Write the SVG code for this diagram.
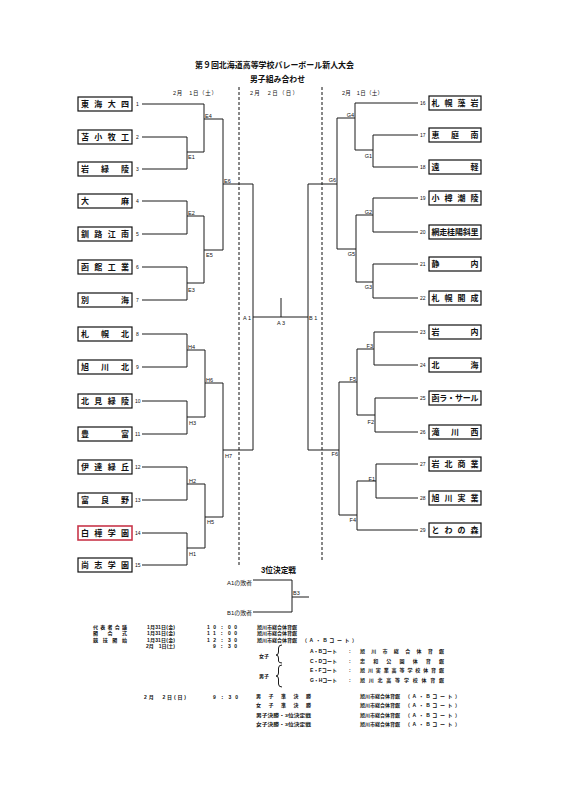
<svg xmlns="http://www.w3.org/2000/svg" width="562" height="800" viewBox="0 0 562 800">
<style>
text{font-family:"Liberation Sans","Noto Sans CJK JP",sans-serif;fill:#111}
.ln{stroke:#1a1a1a;stroke-width:1;fill:none}
.dash{stroke:#111;stroke-width:1;stroke-dasharray:3 2;fill:none}
.box{fill:#fff;stroke:#111;stroke-width:1.2}
.red{fill:#fff;stroke:#c8364a;stroke-width:1.6}
.tn{font-size:8px;font-weight:bold}
.num{font-size:5px}
.lbl{font-size:5.5px}
.ttl{font-size:8.5px;font-weight:bold}
.dt{font-size:5.5px}
.sc{font-size:5px;font-weight:bold}
.sm{font-size:4.3px;font-weight:bold}
</style>
<rect width="562" height="800" fill="#fff"/>
<g id="title">
<text class="ttl" x="195" y="68" textLength="159" lengthAdjust="spacingAndGlyphs">第９回北海道高等学校バレーボール新人大会</text>
<text class="ttl" x="250" y="81.5" textLength="55" lengthAdjust="spacingAndGlyphs">男子組み合わせ</text>
<text class="dt" x="173" y="95" textLength="44" lengthAdjust="spacing">2月　1日（土）</text>
<text class="dt" x="250" y="95" textLength="48" lengthAdjust="spacing">2月　2日（日）</text>
<text class="dt" x="342" y="95" textLength="41" lengthAdjust="spacing">2月　1日（土）</text>
</g>
<g id="day-dividers">
<path class="dash" d="M239 87V566M322 87V562"/>
</g>
<g id="connectors">
<path class="ln" d="M142 104H204M142 137H187M142 169H187M142 201H187M142 234H187M142 267H187M142 300H187M142 334H187M142 367H187M142 401H187M142 434H187M142 467H187M142 500H187M142 533H187M142 565H187
M187 137V169M187 201V234M187 267V300M187 334V367M187 401V434M187 467V500M187 533V565
M187 152H204M187 216H204M187 283H204M187 350H205M187 417H205M187 484H205M187 548H205
M204 104V152M204 216V283M205 350V417M205 484V548
M204 119H223M204 250H223M205 383H223M205 517H223
M223 119V250M223 383V517M223 184H253M223 450H253
M253 184V450M253 317H308M281 298V317M308 184V450"/>
<path class="ln" d="M355 103H418M373 135H418M373 167H418M373 198H418M373 232H418M373 264H418M373 298H418M374 332H418M374 365H418M375 398H418M375 432H418M376 464H418M376 498H418M357 530H418
M373 135V167M373 198V232M373 264V298M374 332V365M375 398V432M376 464V498
M355 150H373M356 215H373M356 282H373M357 349H374M357 415H375M357 481H376
M355 103V150M356 215V282M357 349V415M357 481V530
M337 118H355M337 249H356M339 382H357M339 515H357
M337 118V249M339 382V515M308 184H337M308 450H339"/>
<path class="ln" d="M253 580H292V612H253M292 597H309"/>
</g>
<g id="match-labels" class="lbl">
<text x="205" y="118">E4</text>
<text x="188" y="159">E1</text>
<text x="224" y="182.5">E6</text>
<text x="188" y="214.5">E2</text>
<text x="206" y="257">E5</text>
<text x="188" y="292">E3</text>
<text x="188" y="348.5">H4</text>
<text x="206" y="381.5">H6</text>
<text x="189" y="425">H3</text>
<text x="225" y="458">H7</text>
<text x="189" y="483">H2</text>
<text x="207" y="524">H5</text>
<text x="189" y="556">H1</text>
<text x="251" y="319.5" text-anchor="end">A 1</text>
<text x="281" y="325" text-anchor="middle">A 3</text>
<text x="309" y="319.5">B 1</text>
<g text-anchor="end">
<text x="354" y="117">G4</text>
<text x="372" y="158">G1</text>
<text x="336" y="182">G6</text>
<text x="372" y="213.5">G2</text>
<text x="355" y="256">G5</text>
<text x="372" y="289">G3</text>
<text x="373" y="347.5">F3</text>
<text x="356" y="381">F5</text>
<text x="374" y="423.5">F2</text>
<text x="338" y="456">F6</text>
<text x="375" y="480.5">F1</text>
<text x="356" y="521.5">F4</text>
</g>
<text x="293" y="595">B3</text>
</g>
<g id="team-1"><rect class="box" x="78" y="97" width="54" height="14"/><text class="tn" x="81" y="107" textLength="48" lengthAdjust="spacing">東海大四</text><text class="num" x="136" y="106">1</text></g>
<g id="team-2"><rect class="box" x="78" y="130" width="54" height="14"/><text class="tn" x="81" y="140" textLength="48" lengthAdjust="spacing">苫小牧工</text><text class="num" x="136" y="139">2</text></g>
<g id="team-3"><rect class="box" x="78" y="162" width="54" height="14"/><text class="tn" x="81" y="172" textLength="48" lengthAdjust="spacing">岩緑陵</text><text class="num" x="136" y="171">3</text></g>
<g id="team-4"><rect class="box" x="78" y="194" width="54" height="14"/><text class="tn" x="81" y="204" textLength="48" lengthAdjust="spacing">大麻</text><text class="num" x="136" y="203">4</text></g>
<g id="team-5"><rect class="box" x="78" y="227" width="54" height="14"/><text class="tn" x="81" y="237" textLength="48" lengthAdjust="spacing">釧路江南</text><text class="num" x="136" y="236">5</text></g>
<g id="team-6"><rect class="box" x="78" y="260" width="54" height="14"/><text class="tn" x="81" y="270" textLength="48" lengthAdjust="spacing">函館工業</text><text class="num" x="136" y="269">6</text></g>
<g id="team-7"><rect class="box" x="78" y="293" width="54" height="14"/><text class="tn" x="81" y="303" textLength="48" lengthAdjust="spacing">別海</text><text class="num" x="136" y="302">7</text></g>
<g id="team-8"><rect class="box" x="78" y="327" width="54" height="14"/><text class="tn" x="81" y="337" textLength="48" lengthAdjust="spacing">札幌北</text><text class="num" x="136" y="336">8</text></g>
<g id="team-9"><rect class="box" x="78" y="360" width="54" height="14"/><text class="tn" x="81" y="370" textLength="48" lengthAdjust="spacing">旭川北</text><text class="num" x="136" y="369">9</text></g>
<g id="team-10"><rect class="box" x="78" y="394" width="54" height="14"/><text class="tn" x="81" y="404" textLength="48" lengthAdjust="spacing">北見緑陵</text><text class="num" x="135" y="403">10</text></g>
<g id="team-11"><rect class="box" x="78" y="427" width="54" height="14"/><text class="tn" x="81" y="437" textLength="48" lengthAdjust="spacing">豊富</text><text class="num" x="135" y="436">11</text></g>
<g id="team-12"><rect class="box" x="78" y="460" width="54" height="14"/><text class="tn" x="81" y="470" textLength="48" lengthAdjust="spacing">伊達緑丘</text><text class="num" x="135" y="469">12</text></g>
<g id="team-13"><rect class="box" x="78" y="493" width="54" height="14"/><text class="tn" x="81" y="503" textLength="48" lengthAdjust="spacing">富良野</text><text class="num" x="135" y="502">13</text></g>
<g id="team-14"><rect class="red" x="78" y="526" width="54" height="14"/><text class="tn" x="81" y="536" textLength="48" lengthAdjust="spacing">白樺学園</text><text class="num" x="135" y="535">14</text></g>
<g id="team-15"><rect class="box" x="78" y="558" width="54" height="14"/><text class="tn" x="81" y="568" textLength="48" lengthAdjust="spacing">尚志学園</text><text class="num" x="135" y="567">15</text></g>
<g id="team-16"><rect class="box" x="429" y="96" width="52" height="14"/><text class="tn" x="431.5" y="106" textLength="47" lengthAdjust="spacing">札幌藻岩</text><text class="num" x="420" y="105">16</text></g>
<g id="team-17"><rect class="box" x="429" y="128" width="52" height="14"/><text class="tn" x="431.5" y="138" textLength="47" lengthAdjust="spacing">恵庭南</text><text class="num" x="420" y="137">17</text></g>
<g id="team-18"><rect class="box" x="429" y="160" width="52" height="14"/><text class="tn" x="431.5" y="170" textLength="47" lengthAdjust="spacing">遠軽</text><text class="num" x="420" y="169">18</text></g>
<g id="team-19"><rect class="box" x="429" y="191" width="52" height="14"/><text class="tn" x="431.5" y="201" textLength="47" lengthAdjust="spacing">小樽潮陵</text><text class="num" x="420" y="200">19</text></g>
<g id="team-20"><rect class="box" x="429" y="225" width="52" height="14"/><text class="tn" x="431.5" y="235" textLength="47" lengthAdjust="spacing">網走桂陽斜里</text><text class="num" x="420" y="234">20</text></g>
<g id="team-21"><rect class="box" x="429" y="257" width="52" height="14"/><text class="tn" x="431.5" y="267" textLength="47" lengthAdjust="spacing">静内</text><text class="num" x="420" y="266">21</text></g>
<g id="team-22"><rect class="box" x="429" y="291" width="52" height="14"/><text class="tn" x="431.5" y="301" textLength="47" lengthAdjust="spacing">札幌開成</text><text class="num" x="420" y="300">22</text></g>
<g id="team-23"><rect class="box" x="429" y="325" width="52" height="14"/><text class="tn" x="431.5" y="335" textLength="47" lengthAdjust="spacing">岩内</text><text class="num" x="420" y="334">23</text></g>
<g id="team-24"><rect class="box" x="429" y="358" width="52" height="14"/><text class="tn" x="431.5" y="368" textLength="47" lengthAdjust="spacing">北海</text><text class="num" x="420" y="367">24</text></g>
<g id="team-25"><rect class="box" x="429" y="391" width="52" height="14"/><text class="tn" x="431.5" y="401" textLength="47" lengthAdjust="spacing">函ラ・サール</text><text class="num" x="420" y="400">25</text></g>
<g id="team-26"><rect class="box" x="429" y="425" width="52" height="14"/><text class="tn" x="431.5" y="435" textLength="47" lengthAdjust="spacing">滝川西</text><text class="num" x="420" y="434">26</text></g>
<g id="team-27"><rect class="box" x="429" y="457" width="52" height="14"/><text class="tn" x="431.5" y="467" textLength="47" lengthAdjust="spacing">岩北商業</text><text class="num" x="420" y="466">27</text></g>
<g id="team-28"><rect class="box" x="429" y="491" width="52" height="14"/><text class="tn" x="431.5" y="501" textLength="47" lengthAdjust="spacing">旭川実業</text><text class="num" x="420" y="500">28</text></g>
<g id="team-29"><rect class="box" x="429" y="523" width="52" height="14"/><text class="tn" x="431.5" y="533" textLength="47" lengthAdjust="spacing">とわの森</text><text class="num" x="420" y="532">29</text></g>
<g id="third-place">
<text class="ttl" x="261" y="573" textLength="35" lengthAdjust="spacingAndGlyphs">3位決定戦</text>
<text class="dt" x="227" y="584.5" textLength="25" lengthAdjust="spacingAndGlyphs">A1の敗者</text>
<text class="dt" x="227" y="614.5" textLength="25" lengthAdjust="spacingAndGlyphs">B1の敗者</text>
</g>
<g id="schedule">
<text class="sc" x="93" y="629.2" textLength="34" lengthAdjust="spacing">代表者会議</text>
<text class="sc" x="93" y="635.4" textLength="34" lengthAdjust="spacing">開会式</text>
<text class="sc" x="93" y="641.6" textLength="34" lengthAdjust="spacing">競技開始</text>
<text class="sc" x="147" y="629.2" textLength="28" lengthAdjust="spacing">1月31日(金)</text>
<text class="sc" x="147" y="635.4" textLength="28" lengthAdjust="spacing">1月31日(金)</text>
<text class="sc" x="147" y="641.6" textLength="28" lengthAdjust="spacing">1月31日(金)</text>
<text class="sc" x="146" y="647.8" textLength="29" lengthAdjust="spacing">2月　1日(土)</text>
<text class="sc" x="207" y="629.2" textLength="30" lengthAdjust="spacing">10：00</text>
<text class="sc" x="207" y="635.4" textLength="30" lengthAdjust="spacing">11：00</text>
<text class="sc" x="207" y="641.6" textLength="30" lengthAdjust="spacing">12：30</text>
<text class="sc" x="213" y="647.8" textLength="24" lengthAdjust="spacing">9：30</text>
<text class="sc" x="257" y="629.2" textLength="40">旭川市総合体育館</text>
<text class="sc" x="257" y="635.4" textLength="40">旭川市総合体育館</text>
<text class="sc" x="257" y="641.6" textLength="40">旭川市総合体育館</text>
<text class="sc" x="302" y="641.6" textLength="55" lengthAdjust="spacing">（A・Bコート）</text>
<text class="sc" x="259" y="657.5">女子</text>
<text class="sc" x="259" y="678">男子</text>
<path class="ln" stroke-width="0.8" d="M282 645Q278.5 645 278.5 648V652Q278.5 655 276 655Q278.5 655 278.5 658V661Q278.5 663 282 663M282 665Q278.5 665 278.5 668V673Q278.5 676 276 676Q278.5 676 278.5 679V684Q278.5 687 282 687"/>
<text class="sc" x="310" y="653" textLength="27" lengthAdjust="spacing">A・Bコート</text>
<text class="sc" x="310" y="662.5" textLength="27" lengthAdjust="spacing">C・Dコート</text>
<text class="sc" x="310" y="672" textLength="27" lengthAdjust="spacing">E・Fコート</text>
<text class="sc" x="310" y="681.5" textLength="27" lengthAdjust="spacing">G・Hコート</text>
<text class="sc" x="349" y="653">:</text>
<text class="sc" x="349" y="662.5">:</text>
<text class="sc" x="349" y="672">:</text>
<text class="sc" x="349" y="681.5">:</text>
<text class="sc" x="360" y="653" textLength="84" lengthAdjust="spacing">旭川市総合体育館</text>
<text class="sc" x="360" y="662.5" textLength="84" lengthAdjust="spacing">忠和公園体育館</text>
<text class="sc" x="360" y="672" textLength="84" lengthAdjust="spacing">旭川実業高等学校体育館</text>
<text class="sc" x="360" y="681.5" textLength="84" lengthAdjust="spacing">旭川北高等学校体育館</text>
<text class="sc" x="144" y="699" textLength="42" lengthAdjust="spacing">2月　2日(日)</text>
<text class="sc" x="213" y="699" textLength="25" lengthAdjust="spacing">9：30</text>
<text class="sc" x="256" y="698" textLength="55" lengthAdjust="spacing">男子準決勝</text>
<text class="sc" x="256" y="707" textLength="55" lengthAdjust="spacing">女子準決勝</text>
<text class="sm" x="256" y="716.5" textLength="55" lengthAdjust="spacingAndGlyphs">男子決勝・3位決定戦</text>
<text class="sm" x="256" y="726" textLength="55" lengthAdjust="spacingAndGlyphs">女子決勝・3位決定戦</text>
<text class="sc" x="360" y="698" textLength="40">旭川市総合体育館</text>
<text class="sc" x="360" y="707" textLength="40">旭川市総合体育館</text>
<text class="sc" x="360" y="716.5" textLength="40">旭川市総合体育館</text>
<text class="sc" x="360" y="726" textLength="40">旭川市総合体育館</text>
<text class="sc" x="405" y="698" textLength="55" lengthAdjust="spacing">（A・Bコート）</text>
<text class="sc" x="405" y="707" textLength="55" lengthAdjust="spacing">（A・Bコート）</text>
<text class="sc" x="405" y="716.5" textLength="55" lengthAdjust="spacing">（A・Bコート）</text>
<text class="sc" x="405" y="726" textLength="55" lengthAdjust="spacing">（A・Bコート）</text>
</g>
</svg>
